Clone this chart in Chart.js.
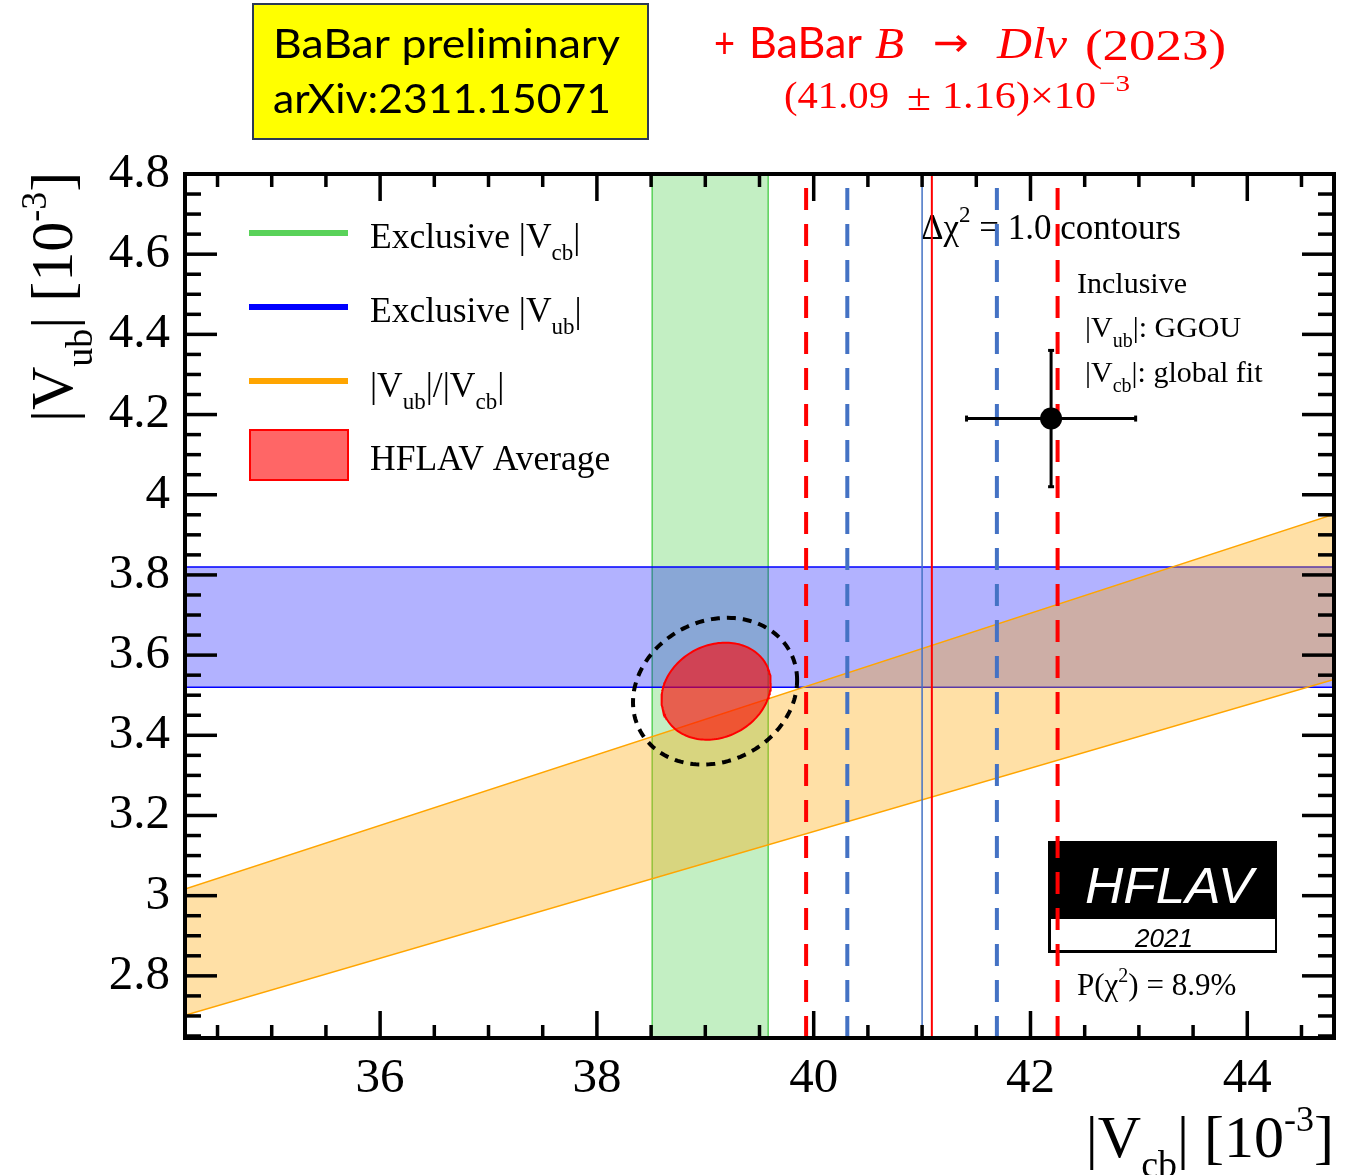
<!DOCTYPE html>
<html>
<head>
<meta charset="utf-8">
<script src="https://cdn.jsdelivr.net/npm/chart.js@4.4.1/dist/chart.umd.min.js"></script>
<style>
  html, body { margin: 0; padding: 0; background: #ffffff; }
  canvas { display: block; }
</style>
</head>
<body>
<canvas id="c" width="1345" height="1175"></canvas>
<script>
// Axis ranges and tick labels (all in units of 10^-3)
const xRange = [34.2, 44.8];
const yRange = [2.645, 4.8];
const xTicks = [36, 38, 40, 42, 44];
const yTicks = [2.8, 3, 3.2, 3.4, 3.6, 3.8, 4, 4.2, 4.4, 4.6, 4.8];

// Exclusive |Vcb| band: lower, upper
const exclVcb = [38.51, 39.58];
// Exclusive |Vub| band: lower, upper
const exclVub = [3.52, 3.82];
// |Vub|/|Vcb| band: lower and upper ratio
const vubOverVcb = [0.0790, 0.0882];
// BaBar B -> D l nu (2023): central value, uncertainty
const babar2023 = [41.09, 1.16];
// |Vcb| value drawn in blue: central value, uncertainty
const vcbBlue = [41.00, 0.69];
// Inclusive point: x, xErr, y, yErr
const inclusive = [42.19, 0.78, 4.19, 0.17];
// HFLAV average: x, y, sigmaX, sigmaY, correlation
const hflavAvg = [39.10, 3.51, 0.504, 0.121, 0.17];
// Scaled contour around the average: x, y, sigmaX, sigmaY, correlation
const hflavScaled = [39.09, 3.51, 0.757, 0.183, 0.15];

const SERIF = '"Liberation Serif", "Times New Roman", serif';
const SANS = 'Lato, "Open Sans", sans-serif';
const ARIAL = '"Liberation Sans", Arial, sans-serif';

const GREEN_EDGE = 'rgb(89,210,89)';
const BLUE_EDGE = '#0000ff';
const ORANGE_EDGE = '#ffa500';
const STEEL = '#4472c4';

// Delta chi^2 = 1 contour of a correlated 2D Gaussian
function contour(p, n) {
  const [cx, cy, sx, sy, rho] = p;
  const s = Math.sqrt(1 - rho * rho);
  const pts = [];
  for (let i = 0; i <= n; i++) {
    const t = 2 * Math.PI * i / n;
    pts.push({ x: cx + sx * Math.cos(t), y: cy + sy * (rho * Math.cos(t) + s * Math.sin(t)) });
  }
  return pts;
}

const [x0, x1] = xRange;
const [y0, y1] = yRange;

function vline(v, color, width, dash, order) {
  return {
    data: [{ x: v, y: y0 }, { x: v, y: y1 }],
    borderColor: color, borderWidth: width, borderDash: dash || [],
    showLine: true, pointRadius: 0, fill: false, order: order
  };
}

const datasets = [
  { // exclusive |Vcb|
    data: [{ x: exclVcb[0], y: y0 }, { x: exclVcb[0], y: y1 }, { x: exclVcb[1], y: y1 }, { x: exclVcb[1], y: y0 }, { x: exclVcb[0], y: y0 }],
    showLine: true, pointRadius: 0, fill: 'shape',
    backgroundColor: 'rgba(0,188,0,0.235)', borderColor: GREEN_EDGE, borderWidth: 1.5, order: 100
  },
  { // exclusive |Vub|
    data: [{ x: x0, y: exclVub[0] }, { x: x1, y: exclVub[0] }, { x: x1, y: exclVub[1] }, { x: x0, y: exclVub[1] }, { x: x0, y: exclVub[0] }],
    showLine: true, pointRadius: 0, fill: 'shape',
    backgroundColor: 'rgba(0,0,255,0.3)', borderColor: BLUE_EDGE, borderWidth: 1.5, order: 90
  },
  { // |Vub|/|Vcb|
    data: [{ x: x0, y: vubOverVcb[0] * x0 }, { x: x1, y: vubOverVcb[0] * x1 }, { x: x1, y: vubOverVcb[1] * x1 }, { x: x0, y: vubOverVcb[1] * x0 }, { x: x0, y: vubOverVcb[0] * x0 }],
    showLine: true, pointRadius: 0, fill: 'shape',
    backgroundColor: 'rgba(255,165,0,0.35)', borderColor: ORANGE_EDGE, borderWidth: 1.5, order: 80
  },
  { // HFLAV average contour
    data: contour(hflavAvg, 160),
    showLine: true, pointRadius: 0, fill: 'shape',
    backgroundColor: 'rgba(255,0,0,0.6)', borderColor: '#ff0000', borderWidth: 2, order: 70
  },
  { // scaled contour
    data: contour(hflavScaled, 160),
    showLine: true, pointRadius: 0, fill: false,
    borderColor: '#000000', borderWidth: 4, borderDash: [9, 7], order: 60
  },
  vline(vcbBlue[0], STEEL, 1.5, null, 55),
  vline(babar2023[0], '#ff0000', 2, null, 54),
  vline(vcbBlue[0] - vcbBlue[1], STEEL, 4, [22, 14], 50),
  vline(vcbBlue[0] + vcbBlue[1], STEEL, 4, [22, 14], 50),
  vline(babar2023[0] - babar2023[1], '#ff0000', 4, [22, 14], 45),
  vline(babar2023[0] + babar2023[1], '#ff0000', 4, [22, 14], 45),
  { // inclusive: horizontal error bar
    data: [{ x: inclusive[0] - inclusive[1], y: inclusive[2] }, { x: inclusive[0] + inclusive[1], y: inclusive[2] }],
    showLine: true, borderColor: '#000', borderWidth: 3, fill: false,
    pointStyle: 'line', rotation: 90, pointRadius: 3, pointBorderWidth: 3, pointBorderColor: '#000', order: 40
  },
  { // inclusive: vertical error bar
    data: [{ x: inclusive[0], y: inclusive[2] - inclusive[3] }, { x: inclusive[0], y: inclusive[2] + inclusive[3] }],
    showLine: true, borderColor: '#000', borderWidth: 3, fill: false,
    pointStyle: 'line', rotation: 0, pointRadius: 3, pointBorderWidth: 3, pointBorderColor: '#000', order: 40
  },
  { // inclusive: central value
    data: [{ x: inclusive[0], y: inclusive[2] }],
    showLine: false, pointRadius: 11, pointBackgroundColor: '#000', pointBorderColor: '#000', pointBorderWidth: 0, order: 30
  }
];

// Text helpers
function fitText(ctx, str, x, y, w, font, color) {
  ctx.save();
  ctx.font = font;
  ctx.fillStyle = color;
  ctx.textBaseline = 'alphabetic';
  ctx.textAlign = 'left';
  const m = ctx.measureText(str).width;
  ctx.translate(x, y);
  ctx.scale(w / m, 1);
  ctx.fillText(str, 0, 0);
  ctx.restore();
}

// parts: [text, kind] with kind 'n', 'sub' or 'sup'
function richWidth(ctx, parts, spec) {
  let w = 0;
  for (const [t, k] of parts) {
    const size = k === 'sub' ? spec.sub : k === 'sup' ? spec.sup : spec.size;
    ctx.font = `${spec.style || ''} ${size}px ${spec.family}`;
    w += ctx.measureText(t).width;
  }
  return w;
}
function rich(ctx, parts, x, y, spec, color) {
  ctx.save();
  ctx.fillStyle = color || '#000';
  ctx.textBaseline = 'alphabetic';
  ctx.textAlign = 'left';
  let cx = x;
  for (const [t, k] of parts) {
    const size = k === 'sub' ? spec.sub : k === 'sup' ? spec.sup : spec.size;
    const dy = k === 'sub' ? spec.subDy : k === 'sup' ? -spec.supDy : 0;
    ctx.font = `${spec.style || ''} ${size}px ${spec.family}`;
    ctx.fillText(t, cx, y + dy);
    cx += ctx.measureText(t).width;
  }
  ctx.restore();
  return cx;
}

const annotations = {
  id: 'annotations',
  beforeDatasetsDraw(chart) {
    const ctx = chart.ctx;

    // Yellow label box
    ctx.save();
    ctx.fillStyle = '#ffff00';
    ctx.fillRect(253, 4, 395, 135);
    ctx.strokeStyle = '#2b3a55';
    ctx.lineWidth = 2;
    ctx.strokeRect(253, 4, 395, 135);
    ctx.restore();
    fitText(ctx, 'BaBar preliminary', 273, 58, 347, `41px ${SANS}`, '#000');
    fitText(ctx, 'arXiv:2311.15071', 273, 113, 338, `41px ${SANS}`, '#000');

    // Red headline
    const red = '#ff0000';
    fitText(ctx, '+', 714, 58, 21, `42px ${SANS}`, red);
    fitText(ctx, 'BaBar', 749, 58, 113, `42px ${SANS}`, red);
    fitText(ctx, 'B', 875, 58, 29, `italic 45px ${SERIF}`, red);
    fitText(ctx, '\u2192', 933, 56, 36, `40px "DejaVu Sans", sans-serif`, red);
    fitText(ctx, 'Dl\u03bd', 997, 58, 70, `italic 45px ${SERIF}`, red);
    fitText(ctx, '(2023)', 1085, 60, 141, `45px ${SERIF}`, red);
    fitText(ctx, '(41.09', 784, 108, 105, `37px ${SERIF}`, red);
    fitText(ctx, '\u00b1', 907, 110, 24, `37px ${SERIF}`, red);
    fitText(ctx, '1.16)\u00d710', 942, 108, 154, `37px ${SERIF}`, red);
    fitText(ctx, '\u22123', 1099, 91, 31, `24px ${SERIF}`, red);

    // Legend
    const lg = { size: 35.5, sub: 23, subDy: 12, sup: 22, supDy: 14, family: SERIF };
    ctx.save();
    ctx.lineWidth = 6;
    ctx.strokeStyle = GREEN_EDGE;
    ctx.beginPath(); ctx.moveTo(249, 233); ctx.lineTo(348, 233); ctx.stroke();
    ctx.strokeStyle = BLUE_EDGE;
    ctx.beginPath(); ctx.moveTo(249, 307); ctx.lineTo(348, 307); ctx.stroke();
    ctx.strokeStyle = ORANGE_EDGE;
    ctx.beginPath(); ctx.moveTo(249, 381); ctx.lineTo(348, 381); ctx.stroke();
    ctx.fillStyle = 'rgba(255,0,0,0.6)';
    ctx.fillRect(250, 430, 98, 50);
    ctx.strokeStyle = '#ff0000';
    ctx.lineWidth = 2;
    ctx.strokeRect(250, 430, 98, 50);
    ctx.restore();
    rich(ctx, [['Exclusive |V', 'n'], ['cb', 'sub'], ['|', 'n']], 370, 248, lg);
    rich(ctx, [['Exclusive |V', 'n'], ['ub', 'sub'], ['|', 'n']], 370, 322, lg);
    rich(ctx, [['|V', 'n'], ['ub', 'sub'], ['|/|V', 'n'], ['cb', 'sub'], ['|', 'n']], 370, 397, lg);
    rich(ctx, [['HFLAV Average', 'n']], 370, 470, lg);

    // Annotations inside the frame
    const tx = { size: 30, sub: 20, subDy: 10, sup: 20, supDy: 14, family: SERIF };
    rich(ctx, [['\u0394\u03c7', 'n'], ['2', 'sup'], [' = 1.0 contours', 'n']], 921, 239,
         { size: 35, sub: 22, subDy: 10, sup: 23, supDy: 17, family: SERIF });
    rich(ctx, [['Inclusive', 'n']], 1077, 293, tx);
    rich(ctx, [['|V', 'n'], ['ub', 'sub'], ['|: GGOU', 'n']], 1085, 337, tx);
    rich(ctx, [['|V', 'n'], ['cb', 'sub'], ['|: global fit', 'n']], 1085, 382, tx);
    rich(ctx, [['P(\u03c7', 'n'], ['2', 'sup'], [') = 8.9%', 'n']], 1077, 995, { size: 31, sub: 20, subDy: 10, sup: 20, supDy: 13, family: SERIF });

    // HFLAV logo
    ctx.save();
    ctx.fillStyle = '#000';
    ctx.fillRect(1048, 841, 229, 112);
    ctx.fillStyle = '#fff';
    ctx.fillRect(1051, 919, 224, 31);
    ctx.restore();
    fitText(ctx, 'HFLAV', 1085, 903, 168, `italic 50px ${ARIAL}`, '#fff');
    fitText(ctx, '2021', 1135, 947, 58, `italic 26px ${ARIAL}`, '#000');

    // Axis titles
    const at = { size: 60, sub: 38, subDy: 20, sup: 36, supDy: 26, family: SERIF };
    const xt = [['|V', 'n'], ['cb', 'sub'], ['| [10', 'n'], ['-3', 'sup'], [']', 'n']];
    const w = richWidth(ctx, xt, at);
    rich(ctx, xt, 1334 - w, 1157, at);
    ctx.save();
    ctx.translate(72, 422);
    ctx.rotate(-Math.PI / 2);
    rich(ctx, [['|V', 'n'], ['ub', 'sub'], ['| [10', 'n'], ['-3', 'sup'], [']', 'n']], 0, 0, at);
    ctx.restore();
  },
  afterDatasetsDraw(chart) {
    const ctx = chart.ctx;
    const { left, right, top, bottom } = chart.chartArea;
    const xs = chart.scales.x, ys = chart.scales.y;
    ctx.save();
    ctx.strokeStyle = '#000';
    ctx.lineWidth = 3.5;
    ctx.lineCap = 'butt';
    const seg = (a, b, c, d) => { ctx.beginPath(); ctx.moveTo(a, b); ctx.lineTo(c, d); ctx.stroke(); };
    // x ticks: minor every 0.5, major at labelled values
    for (let i = Math.ceil(x0 * 2); i <= Math.floor(x1 * 2); i++) {
      const v = i / 2;
      const major = xTicks.some(t => Math.abs(t - v) < 1e-6);
      const len = major ? 27 : 13;
      const p = xs.getPixelForValue(v);
      seg(p, bottom, p, bottom - len);
      seg(p, top, p, top + len);
    }
    // y ticks: minor every 0.05, major at labelled values
    for (let i = Math.ceil(y0 * 20 - 1e-6); i <= Math.floor(y1 * 20 + 1e-6); i++) {
      const v = i / 20;
      const major = yTicks.some(t => Math.abs(t - v) < 1e-6);
      const len = major ? 32 : 16;
      const p = ys.getPixelForValue(v);
      seg(left, p, left + len, p);
      seg(right, p, right - len, p);
    }
    ctx.lineWidth = 4;
    ctx.strokeRect(left, top, right - left, bottom - top);
    ctx.restore();
  }
};

new Chart(document.getElementById('c'), {
  type: 'scatter',
  data: { datasets },
  options: {
    responsive: false,
    animation: false,
    devicePixelRatio: 1,
    layout: { padding: { top: 174, right: 11, left: 0, bottom: 0 } },
    plugins: { legend: { display: false }, tooltip: { enabled: false } },
    elements: { line: { tension: 0 } },
    scales: {
      x: {
        type: 'linear', min: x0, max: x1,
        border: { display: false },
        grid: { display: false, drawTicks: false },
        afterBuildTicks: s => { s.ticks = xTicks.map(v => ({ value: v })); },
        afterFit: s => { s.height = 137; },
        ticks: { padding: 12, color: '#000', font: { family: SERIF, size: 49 }, callback: v => String(v), maxRotation: 0, autoSkip: false }
      },
      y: {
        type: 'linear', min: y0, max: y1,
        border: { display: false },
        grid: { display: false, drawTicks: false },
        afterBuildTicks: s => { s.ticks = yTicks.map(v => ({ value: v })); },
        afterFit: s => { s.width = 185; },
        ticks: { padding: 15, color: '#000', font: { family: SERIF, size: 49 }, callback: v => String(v), autoSkip: false }
      }
    }
  },
  plugins: [annotations]
});
</script>
</body>
</html>
